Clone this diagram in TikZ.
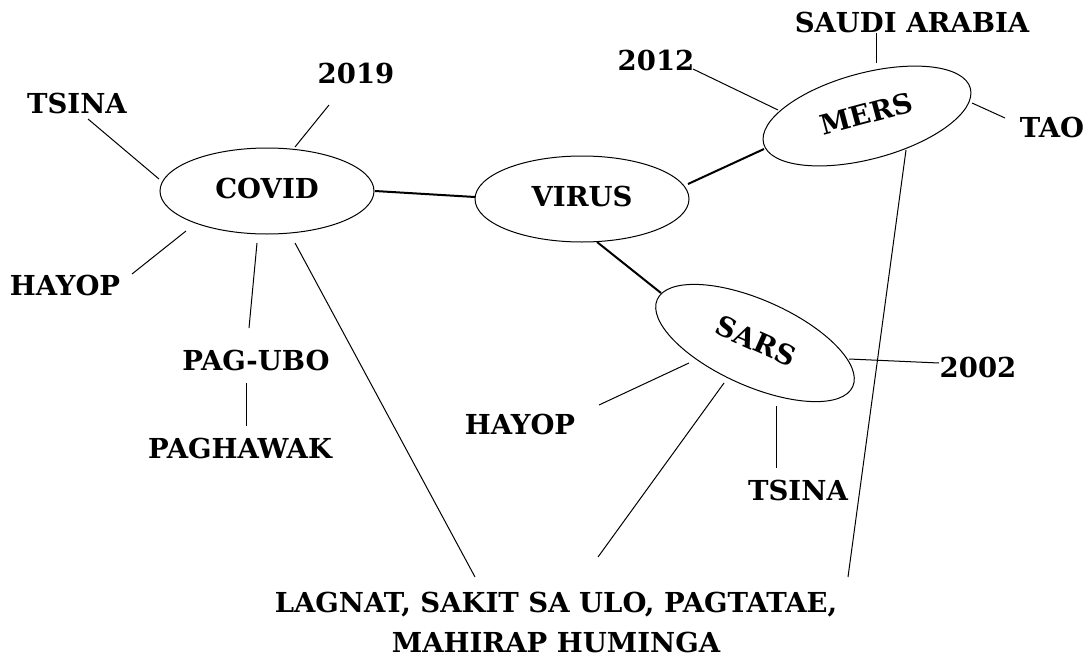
\documentclass[tikz,border=0pt]{standalone}
\usepackage{fontspec}
\setmainfont{DejaVu Serif}
\usetikzlibrary{shapes.geometric}
\tikzset{
  lbl/.style={anchor=base, inner sep=0pt, font=\fontsize{27.5}{40}\selectfont\bfseries},
  oval/.style={draw, line width=1pt, ellipse, inner sep=0pt, minimum width=214pt, minimum height=86pt, text depth=5pt, font=\fontsize{27.5}{40}\selectfont\bfseries},
  thin/.style={line width=1pt},
  thick/.style={line width=2pt}
}
\begin{document}
\begin{tikzpicture}[x=1pt,y=-1pt]
\path[use as bounding box, fill=white] (0,0) rectangle (1089,656);
% ellipses
\node[oval] (covid) at (267,191) {COVID};
\node[oval] (virus) at (582,199) {VIRUS};
\node[oval, rotate=15] (mers) at (867,116) {MERS};
\node[oval, rotate=-24] (sars) at (755,343) {SARS};
% labels
\node[lbl] (tsinaA) at (77,113) {TSINA};
\node[lbl] (yA) at (356,83) {2019};
\node[lbl] (hayopA) at (65,295) {HAYOP};
\node[lbl] (ubo) at (256,370) {PAG-UBO};
\node[lbl] (hawak) at (240,458) {PAGHAWAK};
\node[lbl] (yB) at (656,70) {2012};
\node[lbl] (saudi) at (912,32) {SAUDI ARABIA};
\node[lbl] (tao) at (1052,137) {TAO};
\node[lbl] (hayopB) at (520,434) {HAYOP};
\node[lbl] (tsinaB) at (798,500) {TSINA};
\node[lbl] (yC) at (978,377) {2002};
\node[lbl, anchor=north, align=center, text depth=0pt] (lagnat) at (556,592) {LAGNAT, SAKIT SA ULO, PAGTATAE,\\MAHIRAP HUMINGA};
% main connectors
\draw[thick] ([shift={(108,0)}]covid.center) -- ([shift={(-107,-2)}]virus.center);
\draw[thick] ([shift={(106,-15)}]virus.center) -- ([shift={(-103,33)}]mers.center);
\draw[thick] ([shift={(15,43)}]virus.center) -- ([shift={(-94,-50)}]sars.center);
% covid leaves
\draw[thin] ([shift={(11,6)}]tsinaA.base) -- ([shift={(-108,-12)}]covid.center);
\draw[thin] ([shift={(-27,22)}]yA.base) -- ([shift={(28,-44)}]covid.center);
\draw[thin] ([shift={(67,-21)}]hayopA.base) -- ([shift={(-81,40)}]covid.center);
\draw[thin] ([shift={(-7,-42)}]ubo.base) -- ([shift={(-10,52)}]covid.center);
\draw[thin] ([shift={(6,-32)}]hawak.base) -- ([shift={(-10,13)}]ubo.base);
\draw[thin] ([shift={(-81,-15)}]lagnat.north) -- ([shift={(28,52)}]covid.center);
% mers leaves
\draw[thin] ([shift={(37,-1)}]yB.base) -- ([shift={(-89,-6)}]mers.center);
\draw[thin] ([shift={(-36,1)}]saudi.base) -- ([shift={(9,-53)}]mers.center);
\draw[thin] ([shift={(-47,-19)}]tao.base) -- ([shift={(105,-13)}]mers.center);
\draw[thin] ([shift={(292,-15)}]lagnat.north) -- ([shift={(39,34)}]mers.center);
% sars leaves
\draw[thin] ([shift={(79,-29)}]hayopB.base) -- ([shift={(-66,20)}]sars.center);
\draw[thin] ([shift={(42,-35)}]lagnat.north) -- ([shift={(-31,40)}]sars.center);
\draw[thin] ([shift={(-22,-32)}]tsinaB.base) -- ([shift={(21,63)}]sars.center);
\draw[thin] ([shift={(-39,-14)}]yC.base) -- ([shift={(94,16)}]sars.center);
\end{tikzpicture}
\end{document}
